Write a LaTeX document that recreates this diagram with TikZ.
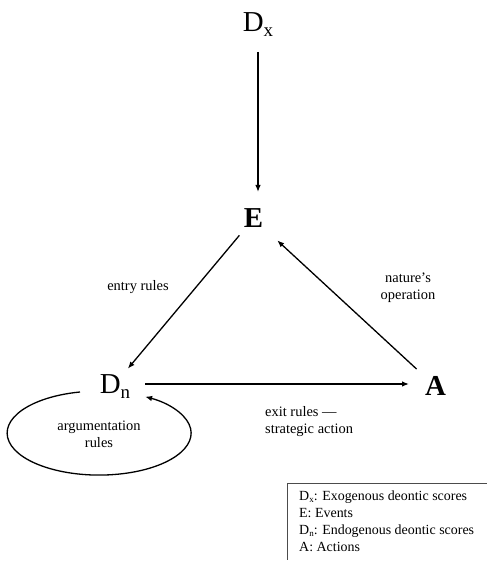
\documentclass[tikz,border=0pt]{standalone}
\usepackage{fontspec}
\setmainfont{Liberation Serif}
\usetikzlibrary{arrows.meta}
\newcommand{\bigsubscr}[1]{\raisebox{-5bp}{\fontsize{19}{19}\selectfont #1}}
\newcommand{\smallsubscr}[1]{\raisebox{-2bp}{\fontsize{9}{9}\selectfont #1}}
\begin{document}
\begin{tikzpicture}[x=1bp,y=1bp,
  big/.style={inner sep=0pt, text height=19bp, text depth=0bp, font=\fontsize{29}{29}\selectfont},
  lbl/.style={inner sep=0pt, align=center, font=\fontsize{14.5}{17}\selectfont},
  arr/.style={-{Latex[length=7bp,width=5.5bp]}, line width=1.3bp},
  legendline/.style={line width=0.6bp, draw=black!70},
]
\useasboundingbox (0,0) rectangle (487,562);

\node[big] (Dx) at (258,540) {D\bigsubscr{x}};
\node[big] (E) at (253.5,343.5) {\textbf{E}};
\node[big] (Dn) at (115,178) {D\bigsubscr{n}};
\node[big] (A) at (435.5,175.5) {\textbf{A}};

\draw[arr, shorten <=30bp, shorten >=26.5bp] (Dx.center) -- (Dx.center |- E.center);
\draw[arr, shorten <=22bp, shorten >=20bp] (E.center) -- (Dn.center);
\draw[arr, shorten <=30bp, shorten >=26.5bp] (Dn.center) -- (Dn.center -| A.center);
\draw[arr, shorten <=25.7bp, shorten >=32.3bp] (A.center) -- (E.center);
\draw[arr] ([shift={(-35,-8)}]Dn.center) arc[start angle=102, end angle=420, x radius=92, y radius=42];

\node[lbl] (entry) at (138,275) {entry rules};
\node[lbl] (nature) at (408,274) {nature’s\\operation};
\node[lbl, anchor=west, align=left] (exit) at (265,140.5) {exit rules —\\strategic action};
\node[lbl] (argu) at (99,128) {argumentation\\rules};

\node[inner sep=0pt, anchor=north west, align=left, font=\fontsize{14}{17}\selectfont] (legend) at (299,71)
  {D\smallsubscr{x}: Exogenous deontic scores\\E: Events\\D\smallsubscr{n}: Endogenous deontic scores\\A: Actions};
\draw[legendline] (287,2) -- (287,79) -- (487,79);
\end{tikzpicture}
\end{document}
